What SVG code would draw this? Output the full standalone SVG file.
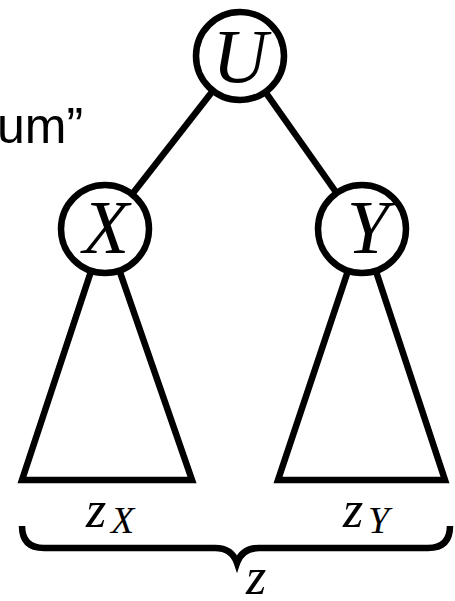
<svg xmlns="http://www.w3.org/2000/svg" width="455" height="601" viewBox="0 0 455 601">
<style>
.ln{stroke:#000;stroke-width:6.5;fill:none;stroke-linejoin:miter}
.nd{stroke:#000;stroke-width:6.5;fill:#fff}
.m{font-family:"Liberation Serif",serif;font-style:italic;fill:#000}
.s{font-family:"Liberation Sans",Arial,sans-serif;fill:#000}
</style>
<rect width="455" height="601" fill="#fff"/>
<text class="s" x="-3" y="143" font-size="50">um”</text>
<g id="connectors">
<line class="ln" x1="240" y1="56" x2="105" y2="229"/>
<line class="ln" x1="240" y1="56" x2="362" y2="229"/>
<polygon class="ln" points="105,229 22,480 192,480"/>
<polygon class="ln" points="362,229 278,480 445,480"/>
<path class="ln" d="M22,526 Q22,548 44,548 L215,548 Q232,548 237,563 Q242,548 259,548 L428,548 Q450,548 450,526"/>
</g>
<g id="U"><circle class="nd" cx="240" cy="56" r="44"/><text class="m" x="240" y="82" font-size="76" text-anchor="middle">U</text></g>
<g id="X"><circle class="nd" cx="105" cy="229" r="44"/><text class="m" x="106" y="253" font-size="76" text-anchor="middle">X</text></g>
<g id="Y"><circle class="nd" cx="362" cy="229" r="44"/><text class="m" x="368" y="253" font-size="76" text-anchor="middle">Y</text></g>
<g id="labels">
<text class="m" x="86" y="527" font-size="52">z</text>
<text class="m" x="111" y="533" font-size="38">X</text>
<text class="m" x="343" y="527" font-size="52">z</text>
<text class="m" x="368" y="533" font-size="38">Y</text>
<text class="m" x="246" y="594" font-size="52">z</text>
</g>
</svg>
